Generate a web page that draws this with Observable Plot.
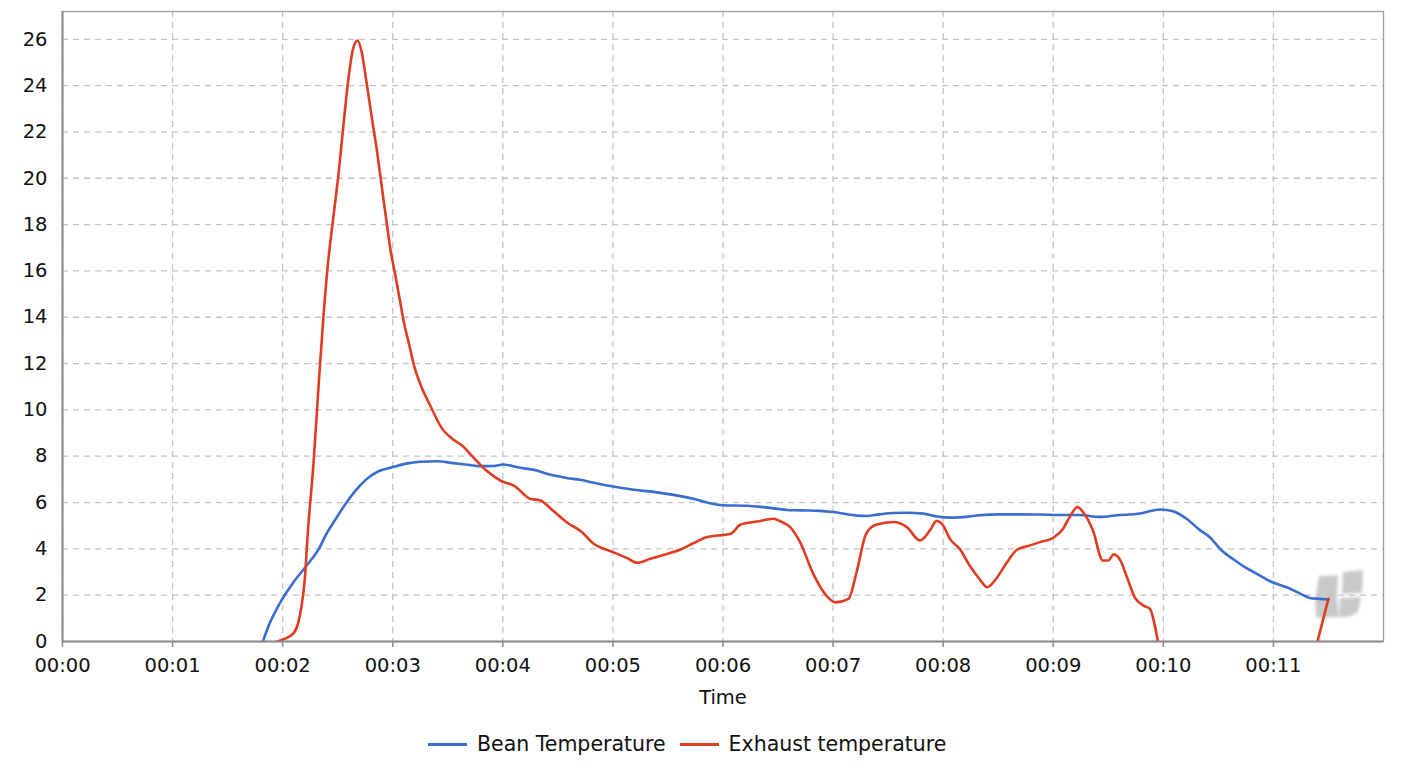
<!DOCTYPE html>
<html>
<head>
<meta charset="utf-8">
<script src="https://cdn.jsdelivr.net/npm/d3@7"></script>
<script src="https://cdn.jsdelivr.net/npm/@observablehq/plot@0.6"></script>
<style>
  html, body { margin: 0; padding: 0; background: #fff; }
  body { width: 1406px; height: 772px; position: relative; overflow: hidden; font-family: "DejaVu Sans", sans-serif; }
  #chart { position: absolute; left: 0; top: 0; z-index: 1; }
  #logo { position: absolute; left: 0; top: 0; z-index: 0; }
  #legend { position: absolute; top: 731px; left: 428px; font-size: 20.5px; line-height: 26px; color: #111; white-space: nowrap; display: flex; align-items: center; }
  .sw { display: inline-block; width: 39px; height: 3px; margin-right: 10px; }
  .item { display: inline-flex; align-items: center; margin-right: 14px; }
</style>
</head>
<body>
<svg id="logo" width="1406" height="772">
  <defs><filter id="bl"><feGaussianBlur stdDeviation="1.5"/></filter></defs>
  <g fill="#c4c4c4" filter="url(#bl)" opacity="0.9">
    <path d="M1319 576 L1338 575 L1337 598 L1339 617 L1316 618 L1315 600 Z"/>
    <path d="M1343 572 L1363 570 L1362 593 L1342 594 Z"/>
    <path d="M1340 598 L1361 597 L1358 612 L1349 617 L1339 617 Z"/>
  </g>
</svg>
<div id="chart"></div>
<div id="legend">
  <span class="item"><span class="sw" style="background:#3a6dd0"></span>Bean Temperature</span>
  <span class="item"><span class="sw" style="background:#e03c22"></span>Exhaust temperature</span>
</div>
<script>
// Time in minutes
const beanTime = [1.82,1.87,1.98,2.10,2.22,2.33,2.40,2.49,2.58,2.66,2.76,2.87,3.00,3.12,3.25,3.40,3.55,3.70,3.79,3.92,4.00,4.16,4.31,4.40,4.58,4.70,4.85,5.00,5.19,5.37,5.55,5.73,5.88,6.00,6.22,6.37,6.58,6.70,6.88,7.00,7.18,7.30,7.42,7.55,7.67,7.82,7.94,8.09,8.21,8.33,8.52,8.70,8.88,9.06,9.24,9.42,9.58,9.79,9.97,10.09,10.21,10.33,10.42,10.53,10.63,10.73,10.85,10.97,11.12,11.24,11.33,11.42,11.50];
const beanValue = [0,0.65,1.7,2.57,3.29,4.01,4.67,5.35,6.0,6.5,7.0,7.35,7.53,7.68,7.76,7.78,7.7,7.62,7.57,7.58,7.64,7.5,7.38,7.24,7.06,6.98,6.83,6.69,6.55,6.46,6.33,6.16,5.97,5.88,5.86,5.8,5.68,5.66,5.64,5.59,5.46,5.42,5.49,5.55,5.56,5.52,5.4,5.35,5.38,5.45,5.49,5.49,5.48,5.46,5.46,5.38,5.45,5.53,5.70,5.62,5.3,4.82,4.51,3.93,3.57,3.24,2.92,2.60,2.34,2.08,1.88,1.84,1.81];

const exhaustTime = [1.95,2.01,2.10,2.14,2.17,2.20,2.23,2.28,2.33,2.37,2.41,2.46,2.51,2.55,2.60,2.64,2.68,2.72,2.76,2.82,2.85,2.90,2.95,2.98,3.02,3.07,3.10,3.14,3.20,3.26,3.34,3.45,3.54,3.63,3.73,3.85,3.99,4.10,4.25,4.34,4.46,4.58,4.72,4.82,5.00,5.13,5.22,5.34,5.49,5.61,5.73,5.85,6.07,6.16,6.31,6.46,6.52,6.61,6.70,6.82,6.94,7.02,7.14,7.21,7.30,7.39,7.55,7.67,7.79,7.88,7.94,8.00,8.06,8.15,8.24,8.33,8.40,8.48,8.58,8.67,8.79,8.88,9.00,9.09,9.15,9.22,9.27,9.36,9.45,9.50,9.55,9.61,9.67,9.74,9.82,9.88,9.92,9.95,10.02,10.5,11.0,11.35,11.40,11.50];
const exhaustValue = [0,0.1,0.36,0.78,1.48,2.64,4.8,7.69,11.3,14.0,16.25,18.3,20.3,22.2,24.4,25.6,25.95,25.4,24.2,22.3,21.4,19.65,17.9,16.9,15.9,14.6,13.8,13.0,11.8,11.0,10.19,9.18,8.75,8.46,7.96,7.38,6.92,6.73,6.16,6.09,5.63,5.15,4.72,4.24,3.86,3.6,3.4,3.57,3.78,3.96,4.24,4.5,4.65,5.05,5.18,5.3,5.19,4.94,4.29,2.92,1.98,1.69,1.84,2.92,4.65,5.04,5.16,4.94,4.36,4.8,5.2,5.01,4.44,4.0,3.28,2.7,2.34,2.70,3.42,3.96,4.15,4.29,4.48,4.87,5.38,5.81,5.59,4.8,3.5,3.5,3.76,3.5,2.77,1.91,1.55,1.4,0.75,0.03,-1.5,-4,-3,-0.9,0,1.85];

const xTicks = [0,1,2,3,4,5,6,7,8,9,10,11];
const yTicks = [0,2,4,6,8,10,12,14,16,18,20,22,24,26];
const xLabel = "Time";

const bean = beanTime.map((t, i) => ({t, v: beanValue[i]}));
const exhaust = exhaustTime.map((t, i) => ({t, v: exhaustValue[i]}));
const fmt = d => "00:" + String(d).padStart(2, "0");

const chart = Plot.plot({
  width: 1406,
  height: 720,
  marginTop: 11,
  marginLeft: 62,
  marginRight: 23,
  marginBottom: 79,
  style: {fontSize: "19.5px", fontFamily: "DejaVu Sans, sans-serif", color: "#111", background: "transparent", overflow: "visible"},
  x: {domain: [0, 12]},
  y: {domain: [0, 27.2]},
  marks: [
    Plot.gridX(xTicks, {stroke: "#c4c4c4", strokeOpacity: 1, strokeDasharray: "6,5", strokeWidth: 1.3}),
    Plot.gridY(yTicks, {stroke: "#c4c4c4", strokeOpacity: 1, strokeDasharray: "6,5", strokeWidth: 1.3}),
    Plot.frame({stroke: "#a0a0a0", strokeWidth: 1.3}),
    Plot.line(bean, {x: "t", y: "v", stroke: "#3a6dd0", strokeWidth: 2.6, curve: "monotone-x", clip: true}),
    Plot.line(exhaust, {x: "t", y: "v", stroke: "#e03c22", strokeWidth: 2.6, curve: "monotone-x", clip: true}),
    Plot.ruleY([0], {stroke: "#8c8c8c", strokeWidth: 2}),
    Plot.ruleX([0], {stroke: "#8c8c8c", strokeWidth: 2}),
    Plot.axisY(yTicks, {tickSize: 0, tickPadding: 15, label: null, fontSize: 19.5}),
    Plot.axisX(xTicks, {tickSize: 6, tickPadding: 11, tickFormat: fmt, label: null, stroke: "#8c8c8c", strokeWidth: 1.5, fontSize: 19.5}),
    Plot.text([xLabel], {frameAnchor: "bottom", dy: 62, text: d => d, fontSize: 19.5, fill: "#111"})
  ]
});
document.getElementById("chart").appendChild(chart);
</script>
</body>
</html>
